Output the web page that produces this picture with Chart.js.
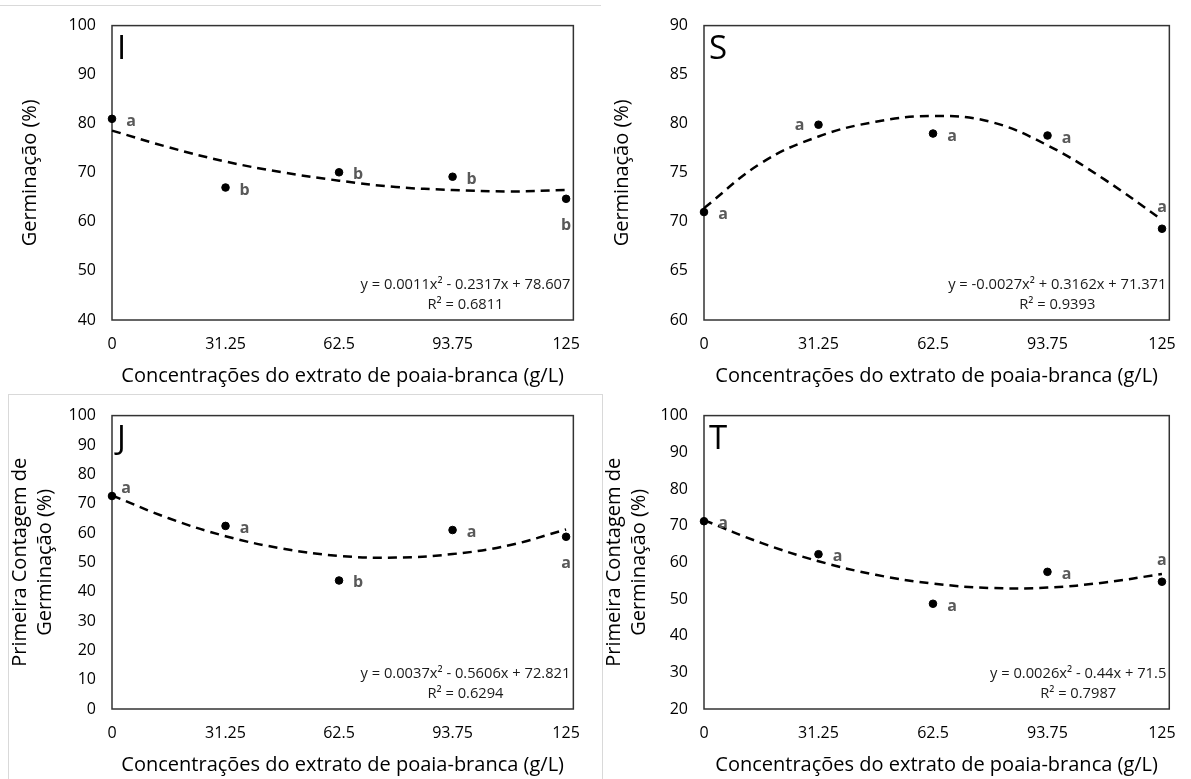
<!DOCTYPE html>
<html>
<head>
<meta charset="utf-8">
<script src="https://cdn.jsdelivr.net/npm/chart.js@4.4.1/dist/chart.umd.min.js"></script>
<style>
    body { margin: 0; background: #fff; }
    #wrap { position: relative; width: 1191px; height: 779px; overflow: hidden; }
    .panel { position: absolute; }
    .rule { position: absolute; background: #d9d9d9; }
</style>
</head>
<body>
<div id="wrap">
    <div class="rule" style="left:0;top:5px;width:601px;height:1px"></div>
    <div class="rule" style="left:8px;top:394px;width:595px;height:1px"></div>
    <div class="rule" style="left:8px;top:394px;width:1px;height:385px"></div>
    <div class="rule" style="left:602px;top:394px;width:1px;height:385px"></div>
    <div class="panel" style="left:0;top:0"><canvas id="chartI" width="595" height="390"></canvas></div>
    <div class="panel" style="left:595px;top:0"><canvas id="chartS" width="596" height="390"></canvas></div>
    <div class="panel" style="left:0;top:390px"><canvas id="chartJ" width="595" height="389"></canvas></div>
    <div class="panel" style="left:595px;top:390px"><canvas id="chartT" width="596" height="389"></canvas></div>
</div>
<script>
// concentrations (g/L) and tick labels
const doses = [0, 31.25, 62.5, 93.75, 125];
const xTicks = [0, 31.25, 62.5, 93.75, 125];
const fitX = [0, 15.625, 31.25, 46.875, 62.5, 78.125, 93.75, 109.375, 125];

// I - germinacao
const germI = [81.0, 67.0, 70.1, 69.2, 64.7];
const fitI = [78.6, 75.2, 72.3, 70.1, 68.4, 67.1, 66.5, 66.2, 66.5];
const letI = ["a", "b", "b", "b", "b"];
const eqI = ["y = 0.0011x² - 0.2317x + 78.607", "R² = 0.6811"];

// S - germinacao
const germS = [71.0, 79.9, 79.0, 78.8, 69.3];
const fitS = [71.4, 76.0, 78.7, 80.2, 80.8, 80.2, 77.8, 74.3, 70.2];
const letS = ["a", "a", "a", "a", "a"];
const eqS = ["y = -0.0027x² + 0.3162x + 71.371", "R² = 0.9393"];

// J - primeira contagem
const pcgJ = [72.6, 62.4, 43.8, 61.0, 58.7];
const fitJ = [72.8, 65.0, 58.9, 54.7, 52.2, 51.6, 52.8, 55.8, 61.2];
const letJ = ["a", "a", "b", "a", "a"];
const eqJ = ["y = 0.0037x² - 0.5606x + 72.821", "R² = 0.6294"];

// T - primeira contagem
const pcgT = [71.2, 62.2, 48.7, 57.4, 54.7];
const fitT = [71.5, 65.3, 60.3, 56.6, 54.2, 53.0, 53.1, 54.5, 56.8];
const letT = ["a", "a", "a", "a", "a"];
const eqT = ["y = 0.0026x² - 0.44x + 71.5", "R² = 0.7987"];

const xTitle = "Concentrações do extrato de poaia-branca (g/L)";
const FONT = "'Open Sans', sans-serif";

// where each letter sits relative to its point
const place = {
    right: [19, 7],
    left: [-19, 5],
    above: [0, -17],
    below: [0, 31],
    upright: [14, -3],
};

const framePlugin = {
    id: "frame",
    beforeDatasetsDraw: function (chart) {
        const a = chart.chartArea;
        const ctx = chart.ctx;
        ctx.save();
        ctx.strokeStyle = "#333";
        ctx.lineWidth = 1.5;
        ctx.strokeRect(a.left, a.top, a.right - a.left, a.bottom - a.top);
        ctx.restore();
    },
};

const notesPlugin = {
    id: "notes",
    afterDatasetsDraw: function (chart, args, opts) {
        const ctx = chart.ctx;
        const a = chart.chartArea;
        const xs = chart.scales.x;
        const ys = chart.scales.y;
        ctx.save();

        // panel letter
        ctx.fillStyle = "#000";
        ctx.font = "400 33px " + FONT;
        ctx.textAlign = "left";
        ctx.textBaseline = "alphabetic";
        ctx.fillText(opts.tag, a.left + 5, a.top + 33);

        // significance letters
        ctx.fillStyle = "#595959";
        ctx.font = "700 16px " + FONT;
        ctx.textAlign = "center";
        opts.letters.forEach(function (t, i) {
            const off = place[opts.where[i]];
            const px = xs.getPixelForValue(doses[i]);
            const py = ys.getPixelForValue(opts.values[i]);
            ctx.fillText(t, px + off[0], py + off[1]);
        });

        // regression equation
        ctx.fillStyle = "#1a1a1a";
        ctx.font = "400 14.7px " + FONT;
        ctx.textBaseline = "middle";
        const w = ctx.measureText(opts.eq[0]).width;
        const right = a.right - 3;
        ctx.textAlign = "right";
        ctx.fillText(opts.eq[0], right, a.bottom - 35);
        ctx.textAlign = "center";
        ctx.fillText(opts.eq[1], right - w / 2, a.bottom - 15);
        ctx.restore();
    },
};

function buildPanel(id, p) {
    new Chart(document.getElementById(id), {
        type: "scatter",
        data: {
            datasets: [
                {
                    type: "scatter",
                    data: doses.map(function (x, i) { return { x: x, y: p.values[i] }; }),
                    backgroundColor: "#000",
                    borderColor: "#000",
                    pointRadius: 3.8,
                    clip: false,
                    order: 0,
                },
                {
                    type: "line",
                    data: fitX.map(function (x, i) { return { x: x, y: p.fit[i] }; }),
                    borderColor: "#000",
                    borderWidth: 2.5,
                    borderDash: [9, 6],
                    pointRadius: 0,
                    tension: 0.4,
                    fill: false,
                    clip: false,
                    order: 1,
                },
            ],
        },
        options: {
            responsive: false,
            animation: false,
            events: [],
            layout: {
                padding: { top: p.top, right: p.right, left: 0, bottom: 0 },
            },
            plugins: {
                legend: { display: false },
                tooltip: { enabled: false },
                notes: {
                    tag: p.tag,
                    letters: p.letters,
                    where: p.where,
                    values: p.values,
                    eq: p.eq,
                },
            },
            scales: {
                x: {
                    type: "linear",
                    min: 0,
                    max: 127,
                    afterBuildTicks: function (s) {
                        s.ticks = xTicks.map(function (v) { return { value: v }; });
                    },
                    afterFit: function (s) { s.height = 70; },
                    grid: { display: false, drawTicks: false },
                    border: { display: false },
                    ticks: {
                        color: "#000",
                        padding: 15,
                        maxRotation: 0,
                        font: { family: FONT, size: 16 },
                        callback: function (v) { return String(v); },
                    },
                    title: {
                        display: true,
                        text: xTitle,
                        color: "#000",
                        font: { family: FONT, size: 20 },
                        padding: { top: 0, bottom: 2 },
                    },
                },
                y: {
                    type: "linear",
                    min: p.yMin,
                    max: p.yMax,
                    afterFit: function (s) { s.width = p.left; },
                    grid: { display: false, drawTicks: false },
                    border: { display: false },
                    ticks: {
                        stepSize: p.yStep,
                        color: "#000",
                        padding: 16,
                        font: { family: FONT, size: 16 },
                    },
                    title: {
                        display: true,
                        text: p.yTitle,
                        color: "#000",
                        font: { family: FONT, size: 20, lineHeight: 1.25 },
                        padding: { top: p.titlePad, bottom: 0 },
                    },
                },
            },
        },
        plugins: [framePlugin, notesPlugin],
    });
}

buildPanel("chartI", {
    tag: "I", values: germI, fit: fitI, letters: letI, eq: eqI,
    where: ["right", "right", "right", "right", "below"],
    yMin: 40, yMax: 100, yStep: 10, yTitle: "Germinação (%)",
    top: 16, right: 11, left: 112, titlePad: 18,
});

buildPanel("chartS", {
    tag: "S", values: germS, fit: fitS, letters: letS, eq: eqS,
    where: ["right", "left", "right", "right", "above"],
    yMin: 60, yMax: 90, yStep: 5, yTitle: "Germinação (%)",
    top: 16, right: 16, left: 109, titlePad: 15,
});

buildPanel("chartJ", {
    tag: "J", values: pcgJ, fit: fitJ, letters: letJ, eq: eqJ,
    where: ["upright", "right", "right", "right", "below"],
    yMin: 0, yMax: 100, yStep: 10, yTitle: ["Primeira Contagem de", "Germinação (%)"],
    top: 15, right: 12, left: 112, titlePad: 8,
});

buildPanel("chartT", {
    tag: "T", values: pcgT, fit: fitT, letters: letT, eq: eqT,
    where: ["right", "right", "right", "right", "above"],
    yMin: 20, yMax: 100, yStep: 10, yTitle: ["Primeira Contagem de", "Germinação (%)"],
    top: 16, right: 21, left: 109, titlePad: 7,
});
</script>
</body>
</html>
